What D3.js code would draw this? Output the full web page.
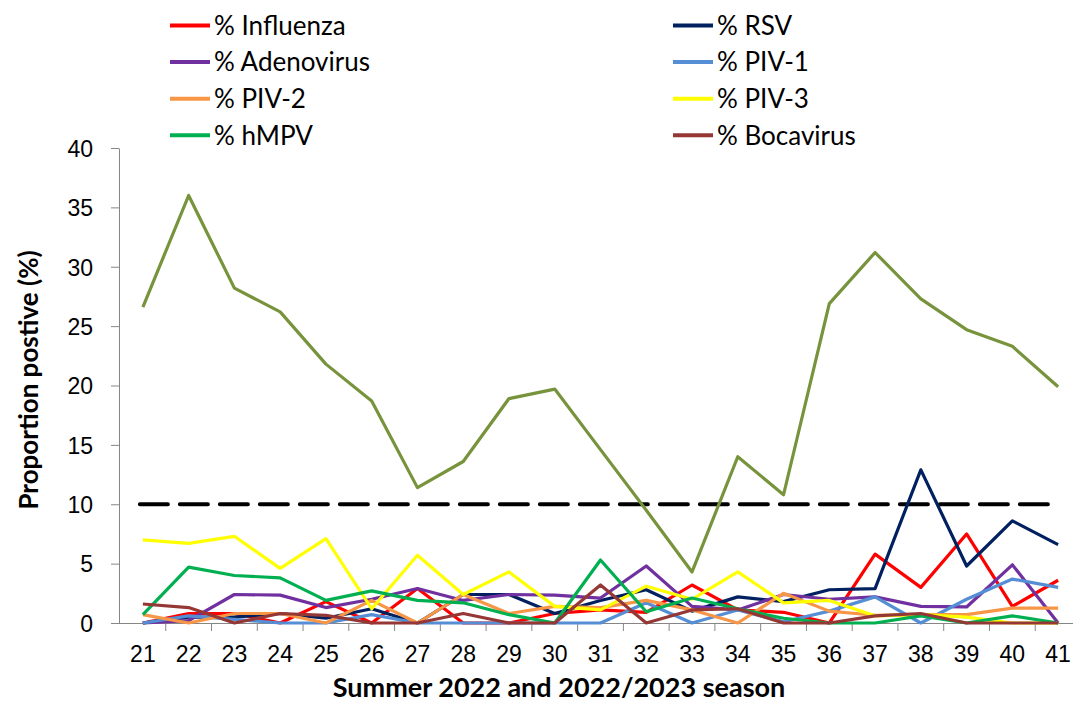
<!DOCTYPE html>
<html lang="en">
<head>
  <meta charset="UTF-8">
  <title>Proportion positive by week</title>
  <script src="https://cdnjs.cloudflare.com/ajax/libs/d3/7.8.5/d3.min.js"></script>
  <style>
    body { margin: 0; background: white; }
    svg { display: block; font-family: Lato, "Open Sans", sans-serif; }
    .axis path, .axis line { stroke: #868686; }
    .axis text { font-size: 23px; fill: #000; }
  </style>
</head>
<body>
  <script>
    var weeks = d3.range(21, 42);
    var yTicks = [0, 5, 10, 15, 20, 25, 30, 35, 40];
    var threshold = 10;

    var influenza = [0, 0.8, 0.8, 0, 1.8, 0, 2.9, 0, 0, 0.8, 1.1, 0.9, 3.2, 1.1, 0.9, 0, 5.8, 3.0, 7.5, 1.4, 3.6];
    var rsv = [0, 0.5, 0.5, 0.8, 0.4, 1.2, 0, 2.4, 2.4, 0.8, 1.9, 2.8, 1.0, 2.2, 1.8, 2.8, 2.9, 12.9, 4.8, 8.6, 6.6];
    var adenovirus = [0, 0.2, 2.4, 2.35, 1.3, 2.0, 2.9, 1.9, 2.4, 2.35, 2.1, 4.8, 1.4, 1.1, 2.4, 2.0, 2.2, 1.4, 1.35, 4.9, 0];
    var piv1 = [0, 0.6, 0.3, 0, 0, 0.7, 0, 0, 0, 0, 0, 1.7, 0, 1.1, 0.1, 1.0, 2.2, 0, 2.0, 3.7, 3.0];
    var piv2 = [0.7, 0, 0.8, 0.8, 0, 1.9, 0, 2.4, 0.8, 1.4, 1.3, 1.9, 1.1, 0, 2.5, 1.0, 0.65, 0.7, 0.7, 1.25, 1.25];
    var piv3 = [7.0, 6.7, 7.3, 4.6, 7.1, 1.2, 5.7, 2.4, 4.3, 1.4, 1.1, 3.1, 2.0, 4.3, 1.7, 1.9, 0.6, 0.7, 0.5, 0, 0];
    var hmpv = [0.7, 4.7, 4.0, 3.8, 1.9, 2.7, 1.9, 1.7, 0.7, 0, 5.3, 0.95, 2.1, 1.2, 0.4, 0, 0, 0.6, 0, 0.6, 0];
    var bocavirus = [1.6, 1.3, 0, 0.8, 0.65, 0, 0, 0.8, 0, 0, 3.2, 0, 1.1, 1.2, 0, 0, 0.6, 0.8, 0, 0, 0];
    var unlabelled = [26.6, 36.0, 28.2, 26.2, 21.8, 18.7, 11.4, 13.6, 18.9, 19.7, 14.6, 9.5, 4.3, 14.0, 10.8, 26.9, 31.2, 27.3, 24.7, 23.3, 19.9];

    var series = [
      {name: "% Influenza", values: influenza, color: "#FF0000", legend: true},
      {name: "% RSV", values: rsv, color: "#002060", legend: true},
      {name: "% Adenovirus", values: adenovirus, color: "#7030A0", legend: true},
      {name: "% PIV-1", values: piv1, color: "#558ED5", legend: true},
      {name: "% PIV-2", values: piv2, color: "#F79646", legend: true},
      {name: "% PIV-3", values: piv3, color: "#FFFF00", legend: true},
      {name: "% hMPV", values: hmpv, color: "#00B050", legend: true},
      {name: "% Bocavirus", values: bocavirus, color: "#953735", legend: true},
      {name: "other", values: unlabelled, color: "#77933C", legend: false}
    ];

    var w = 1073;
    var h = 702;

    var svg = d3.select("body").append("svg")
      .attr("width", w)
      .attr("height", h);

    var xScale = d3.scaleBand()
      .domain(weeks)
      .range([120, 1081])
      .padding(0);

    var yScale = d3.scaleLinear()
      .domain([0, 40])
      .range([623, 148]);

    function cx(wk) {
      return xScale(wk) + xScale.bandwidth() / 2;
    }

    // y axis
    var yAxis = d3.axisLeft(yScale)
      .tickValues(yTicks)
      .tickSize(8)
      .tickPadding(18)
      .tickSizeOuter(0);

    svg.append("g")
      .attr("class", "axis")
      .attr("transform", "translate(119,0)")
      .call(yAxis)
      .selectAll("text")
      .attr("dy", "0.36em");

    // x axis: labels centred, ticks between categories
    var xAxis = d3.axisBottom(xScale)
      .tickSize(0)
      .tickPadding(23)
      .tickSizeOuter(0);

    var gx = svg.append("g")
      .attr("class", "axis")
      .attr("transform", "translate(0,623)")
      .call(xAxis);
    gx.select(".domain").attr("d", "M119,0.5H" + w);

    gx.selectAll(".between")
      .data(weeks.slice(1))
      .enter()
      .append("line")
      .attr("class", "between")
      .attr("x1", function(d) { return xScale(d); })
      .attr("x2", function(d) { return xScale(d); })
      .attr("y1", 0)
      .attr("y2", 8)
      .attr("stroke", "#868686");

    // threshold line
    svg.append("line")
      .attr("x1", cx(weeks[0]) - 3)
      .attr("x2", cx(weeks[weeks.length - 1]))
      .attr("y1", yScale(threshold))
      .attr("y2", yScale(threshold))
      .attr("stroke", "#000")
      .attr("stroke-width", 4)
      .attr("stroke-dasharray", "28,12")
      .attr("stroke-linecap", "round");

    // series lines
    var line = d3.line()
      .x(function(d, i) { return cx(weeks[i]); })
      .y(function(d) { return yScale(d); });

    svg.selectAll("path.series")
      .data(series)
      .enter()
      .append("path")
      .attr("class", "series")
      .attr("fill", "none")
      .attr("stroke", function(d) { return d.color; })
      .attr("stroke-width", 3.2)
      .attr("stroke-linejoin", "round")
      .attr("d", function(d) { return line(d.values); });

    // legend
    var legendItems = series.filter(function(d) { return d.legend; });
    var legend = svg.selectAll("g.legend")
      .data(legendItems)
      .enter()
      .append("g")
      .attr("class", "legend")
      .attr("transform", function(d, i) {
        var col = i % 2;
        var row = Math.floor(i / 2);
        return "translate(" + (col === 0 ? 170 : 673) + "," + (25.5 + row * 36.6) + ")";
      });

    legend.append("line")
      .attr("x1", 0)
      .attr("x2", 40)
      .attr("stroke", function(d) { return d.color; })
      .attr("stroke-width", 4);

    legend.append("text")
      .attr("x", 44)
      .attr("dy", "0.36em")
      .style("font-size", "26px")
      .text(function(d) { return d.name; });

    // axis titles
    svg.append("text")
      .attr("transform", "translate(38,380) rotate(-90)")
      .attr("text-anchor", "middle")
      .style("font-size", "26px")
      .style("font-weight", "bold")
      .text("Proportion postive (%)");

    svg.append("text")
      .attr("x", 559)
      .attr("y", 697)
      .attr("text-anchor", "middle")
      .style("font-size", "27px")
      .style("font-weight", "bold")
      .text("Summer 2022 and 2022/2023 season");
  </script>
</body>
</html>
